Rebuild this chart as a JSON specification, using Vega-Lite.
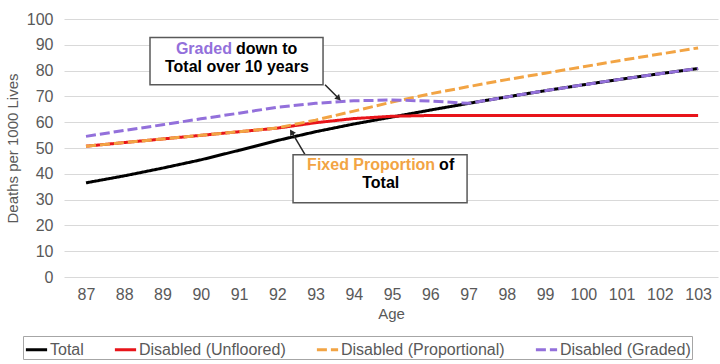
{
  "$schema": "https://vega.github.io/schema/vega-lite/v6.json",
  "width": 654,
  "height": 258,
  "autosize": {"type": "none"},
  "padding": {"left": 64, "top": 19, "right": 2, "bottom": 87},
  "background": "white",
  "config": {
    "font": "Liberation Sans",
    "view": {"stroke": null},
    "axis": {
      "domain": false,
      "ticks": false,
      "tickSize": 0,
      "labelFont": "Liberation Sans",
      "labelFontSize": 16,
      "labelColor": "#595959",
      "labelOverlap": false,
      "titleFont": "Liberation Sans",
      "titleFontSize": 15,
      "titleFontWeight": "normal",
      "titleColor": "#595959",
      "gridColor": "#d9d9d9",
      "gridWidth": 1
    }
  },
  "datasets": {
    "main": [
      {"age": 87, "series": "Total", "value": 36.5},
      {"age": 88, "series": "Total", "value": 39.2},
      {"age": 89, "series": "Total", "value": 42.2},
      {"age": 90, "series": "Total", "value": 45.4},
      {"age": 91, "series": "Total", "value": 49.1},
      {"age": 92, "series": "Total", "value": 52.9},
      {"age": 93, "series": "Total", "value": 56.3},
      {"age": 94, "series": "Total", "value": 59.3},
      {"age": 95, "series": "Total", "value": 62.0},
      {"age": 96, "series": "Total", "value": 64.7},
      {"age": 97, "series": "Total", "value": 67.3},
      {"age": 98, "series": "Total", "value": 69.8},
      {"age": 99, "series": "Total", "value": 72.2},
      {"age": 100, "series": "Total", "value": 74.5},
      {"age": 101, "series": "Total", "value": 76.7},
      {"age": 102, "series": "Total", "value": 78.8},
      {"age": 103, "series": "Total", "value": 80.8},
      {"age": 87, "series": "Disabled (Unfloored)", "value": 50.7},
      {"age": 88, "series": "Disabled (Unfloored)", "value": 52.1},
      {"age": 89, "series": "Disabled (Unfloored)", "value": 53.5},
      {"age": 90, "series": "Disabled (Unfloored)", "value": 54.9},
      {"age": 91, "series": "Disabled (Unfloored)", "value": 56.3},
      {"age": 92, "series": "Disabled (Unfloored)", "value": 57.7},
      {"age": 93, "series": "Disabled (Unfloored)", "value": 59.8},
      {"age": 94, "series": "Disabled (Unfloored)", "value": 61.4},
      {"age": 95, "series": "Disabled (Unfloored)", "value": 62.3},
      {"age": 96, "series": "Disabled (Unfloored)", "value": 62.6},
      {"age": 97, "series": "Disabled (Unfloored)", "value": 62.6},
      {"age": 98, "series": "Disabled (Unfloored)", "value": 62.6},
      {"age": 99, "series": "Disabled (Unfloored)", "value": 62.6},
      {"age": 100, "series": "Disabled (Unfloored)", "value": 62.6},
      {"age": 101, "series": "Disabled (Unfloored)", "value": 62.6},
      {"age": 102, "series": "Disabled (Unfloored)", "value": 62.6},
      {"age": 103, "series": "Disabled (Unfloored)", "value": 62.6},
      {"age": 87, "series": "Disabled (Proportional)", "value": 50.7},
      {"age": 88, "series": "Disabled (Proportional)", "value": 52.1},
      {"age": 89, "series": "Disabled (Proportional)", "value": 53.5},
      {"age": 90, "series": "Disabled (Proportional)", "value": 54.9},
      {"age": 91, "series": "Disabled (Proportional)", "value": 56.3},
      {"age": 92, "series": "Disabled (Proportional)", "value": 57.8},
      {"age": 93, "series": "Disabled (Proportional)", "value": 60.8},
      {"age": 94, "series": "Disabled (Proportional)", "value": 64.3},
      {"age": 95, "series": "Disabled (Proportional)", "value": 67.8},
      {"age": 96, "series": "Disabled (Proportional)", "value": 71.0},
      {"age": 97, "series": "Disabled (Proportional)", "value": 73.8},
      {"age": 98, "series": "Disabled (Proportional)", "value": 76.5},
      {"age": 99, "series": "Disabled (Proportional)", "value": 79.0},
      {"age": 100, "series": "Disabled (Proportional)", "value": 81.5},
      {"age": 101, "series": "Disabled (Proportional)", "value": 84.0},
      {"age": 102, "series": "Disabled (Proportional)", "value": 86.4},
      {"age": 103, "series": "Disabled (Proportional)", "value": 88.8},
      {"age": 87, "series": "Disabled (Graded)", "value": 54.5},
      {"age": 88, "series": "Disabled (Graded)", "value": 56.8},
      {"age": 89, "series": "Disabled (Graded)", "value": 59.0},
      {"age": 90, "series": "Disabled (Graded)", "value": 61.3},
      {"age": 91, "series": "Disabled (Graded)", "value": 63.5},
      {"age": 92, "series": "Disabled (Graded)", "value": 65.8},
      {"age": 93, "series": "Disabled (Graded)", "value": 67.3},
      {"age": 94, "series": "Disabled (Graded)", "value": 68.3},
      {"age": 95, "series": "Disabled (Graded)", "value": 68.6},
      {"age": 96, "series": "Disabled (Graded)", "value": 68.2},
      {"age": 97, "series": "Disabled (Graded)", "value": 67.3},
      {"age": 98, "series": "Disabled (Graded)", "value": 69.8},
      {"age": 99, "series": "Disabled (Graded)", "value": 72.2},
      {"age": 100, "series": "Disabled (Graded)", "value": 74.5},
      {"age": 101, "series": "Disabled (Graded)", "value": 76.7},
      {"age": 102, "series": "Disabled (Graded)", "value": 78.8},
      {"age": 103, "series": "Disabled (Graded)", "value": 80.8}
    ],
    "boxes": [
      {"x1": 88.673, "x2": 93.196, "y1": 92.87, "y2": 74.53},
      {"x1": 92.412, "x2": 96.961, "y1": 47.4, "y2": 28.8}
    ],
    "arrows": [
      {"id": "graded", "x1": 93.248, "y1": 74.53, "x2": 93.588, "y2": 69.5},
      {"id": "fixed", "x1": 92.725, "y1": 47.4, "x2": 92.386, "y2": 55.93}
    ],
    "labels": [
      {"role": "purple", "x": 89.35, "y": 88.3, "text": "Graded"},
      {"role": "black", "x": 90.92, "y": 88.3, "text": "down to"},
      {"role": "black", "x": 89.065, "y": 81.5, "text": "Total over 10 years"},
      {"role": "orange", "x": 92.78, "y": 43.5, "text": "Fixed Proportion"},
      {"role": "black", "x": 96.23, "y": 43.5, "text": "of"},
      {"role": "black", "x": 94.22, "y": 36.4, "text": "Total"}
    ]
  },
  "encoding": {
    "x": {
      "type": "quantitative",
      "title": "Age",
      "scale": {"domain": [86.425, 103.52], "nice": false, "zero": false},
      "axis": {
        "values": [87, 88, 89, 90, 91, 92, 93, 94, 95, 96, 97, 98, 99, 100, 101, 102, 103],
        "grid": false,
        "labelPadding": 9,
        "titlePadding": 4,
        "labelFlush": false
      }
    },
    "y": {
      "type": "quantitative",
      "title": "Deaths per 1000 Lives",
      "scale": {"domain": [0, 100], "nice": false},
      "axis": {
        "values": [0, 10, 20, 30, 40, 50, 60, 70, 80, 90, 100],
        "tickCount": 11,
        "grid": true,
        "labelPadding": 11,
        "titlePadding": 6
      }
    }
  },
  "layer": [
    {
      "data": {"name": "main"},
      "mark": {"type": "line", "strokeWidth": 3},
      "encoding": {
        "x": {"field": "age", "type": "quantitative"},
        "y": {"field": "value", "type": "quantitative"},
        "color": {
          "field": "series",
          "type": "nominal",
          "sort": null,
          "scale": {
            "domain": ["Total", "Disabled (Unfloored)", "Disabled (Proportional)", "Disabled (Graded)"],
            "range": ["#000000", "#E8141A", "#F2A444", "#9370DB"]
          },
          "legend": {
            "title": null,
            "orient": "none",
            "legendX": -41,
            "legendY": 317,
            "direction": "horizontal",
            "columns": 4,
            "symbolType": "stroke",
            "symbolStrokeWidth": 3,
            "symbolSize": 450,
            "labelFont": "Liberation Sans",
            "labelFontSize": 16,
            "labelColor": "#595959",
            "labelLimit": 300,
            "labelOffset": 1,
            "columnPadding": 24,
            "strokeColor": "#a6a6a6",
            "padding": 1
          }
        },
        "strokeDash": {
          "field": "series",
          "type": "nominal",
          "sort": null,
          "scale": {
            "domain": ["Total", "Disabled (Unfloored)", "Disabled (Proportional)", "Disabled (Graded)"],
            "range": [[1, 0], [1, 0], [10, 4], [10, 4]]
          },
          "legend": {
            "title": null,
            "orient": "none",
            "legendX": -41,
            "legendY": 317,
            "direction": "horizontal",
            "columns": 4,
            "symbolType": "stroke",
            "symbolStrokeWidth": 3,
            "symbolSize": 450,
            "labelFont": "Liberation Sans",
            "labelFontSize": 16,
            "labelColor": "#595959",
            "labelLimit": 300,
            "labelOffset": 1,
            "columnPadding": 24,
            "strokeColor": "#a6a6a6",
            "padding": 1
          }
        }
      }
    },
    {
      "data": {"name": "arrows"},
      "mark": {"type": "rule", "color": "#262626", "strokeWidth": 1.5},
      "encoding": {
        "x": {"field": "x1", "type": "quantitative"},
        "y": {"field": "y1", "type": "quantitative"},
        "x2": {"field": "x2"},
        "y2": {"field": "y2"}
      }
    },
    {
      "data": {"name": "arrows"},
      "transform": [{"filter": "datum.id === 'graded'"}],
      "mark": {"type": "point", "shape": "triangle", "filled": true, "color": "#262626", "size": 45, "angle": 135, "opacity": 1},
      "encoding": {
        "x": {"field": "x2", "type": "quantitative"},
        "y": {"field": "y2", "type": "quantitative"}
      }
    },
    {
      "data": {"name": "arrows"},
      "transform": [{"filter": "datum.id === 'fixed'"}],
      "mark": {"type": "point", "shape": "triangle", "filled": true, "color": "#262626", "size": 45, "angle": 329, "opacity": 1},
      "encoding": {
        "x": {"field": "x2", "type": "quantitative"},
        "y": {"field": "y2", "type": "quantitative"}
      }
    },
    {
      "data": {"name": "boxes"},
      "mark": {"type": "rect", "fill": "white", "stroke": "#595959", "strokeWidth": 1.5},
      "encoding": {
        "x": {"field": "x1", "type": "quantitative"},
        "x2": {"field": "x2"},
        "y": {"field": "y1", "type": "quantitative"},
        "y2": {"field": "y2"}
      }
    },
    {
      "data": {"name": "labels"},
      "transform": [{"filter": "datum.role === 'black'"}],
      "mark": {"type": "text", "align": "left", "baseline": "middle", "font": "Liberation Sans", "fontSize": 16, "fontWeight": "bold", "color": "#000000"},
      "encoding": {
        "x": {"field": "x", "type": "quantitative"},
        "y": {"field": "y", "type": "quantitative"},
        "text": {"field": "text"}
      }
    },
    {
      "data": {"name": "labels"},
      "transform": [{"filter": "datum.role === 'purple'"}],
      "mark": {"type": "text", "align": "left", "baseline": "middle", "font": "Liberation Sans", "fontSize": 16, "fontWeight": "bold", "color": "#9370DB"},
      "encoding": {
        "x": {"field": "x", "type": "quantitative"},
        "y": {"field": "y", "type": "quantitative"},
        "text": {"field": "text"}
      }
    },
    {
      "data": {"name": "labels"},
      "transform": [{"filter": "datum.role === 'orange'"}],
      "mark": {"type": "text", "align": "left", "baseline": "middle", "font": "Liberation Sans", "fontSize": 16, "fontWeight": "bold", "color": "#F2A444"},
      "encoding": {
        "x": {"field": "x", "type": "quantitative"},
        "y": {"field": "y", "type": "quantitative"},
        "text": {"field": "text"}
      }
    }
  ]
}
